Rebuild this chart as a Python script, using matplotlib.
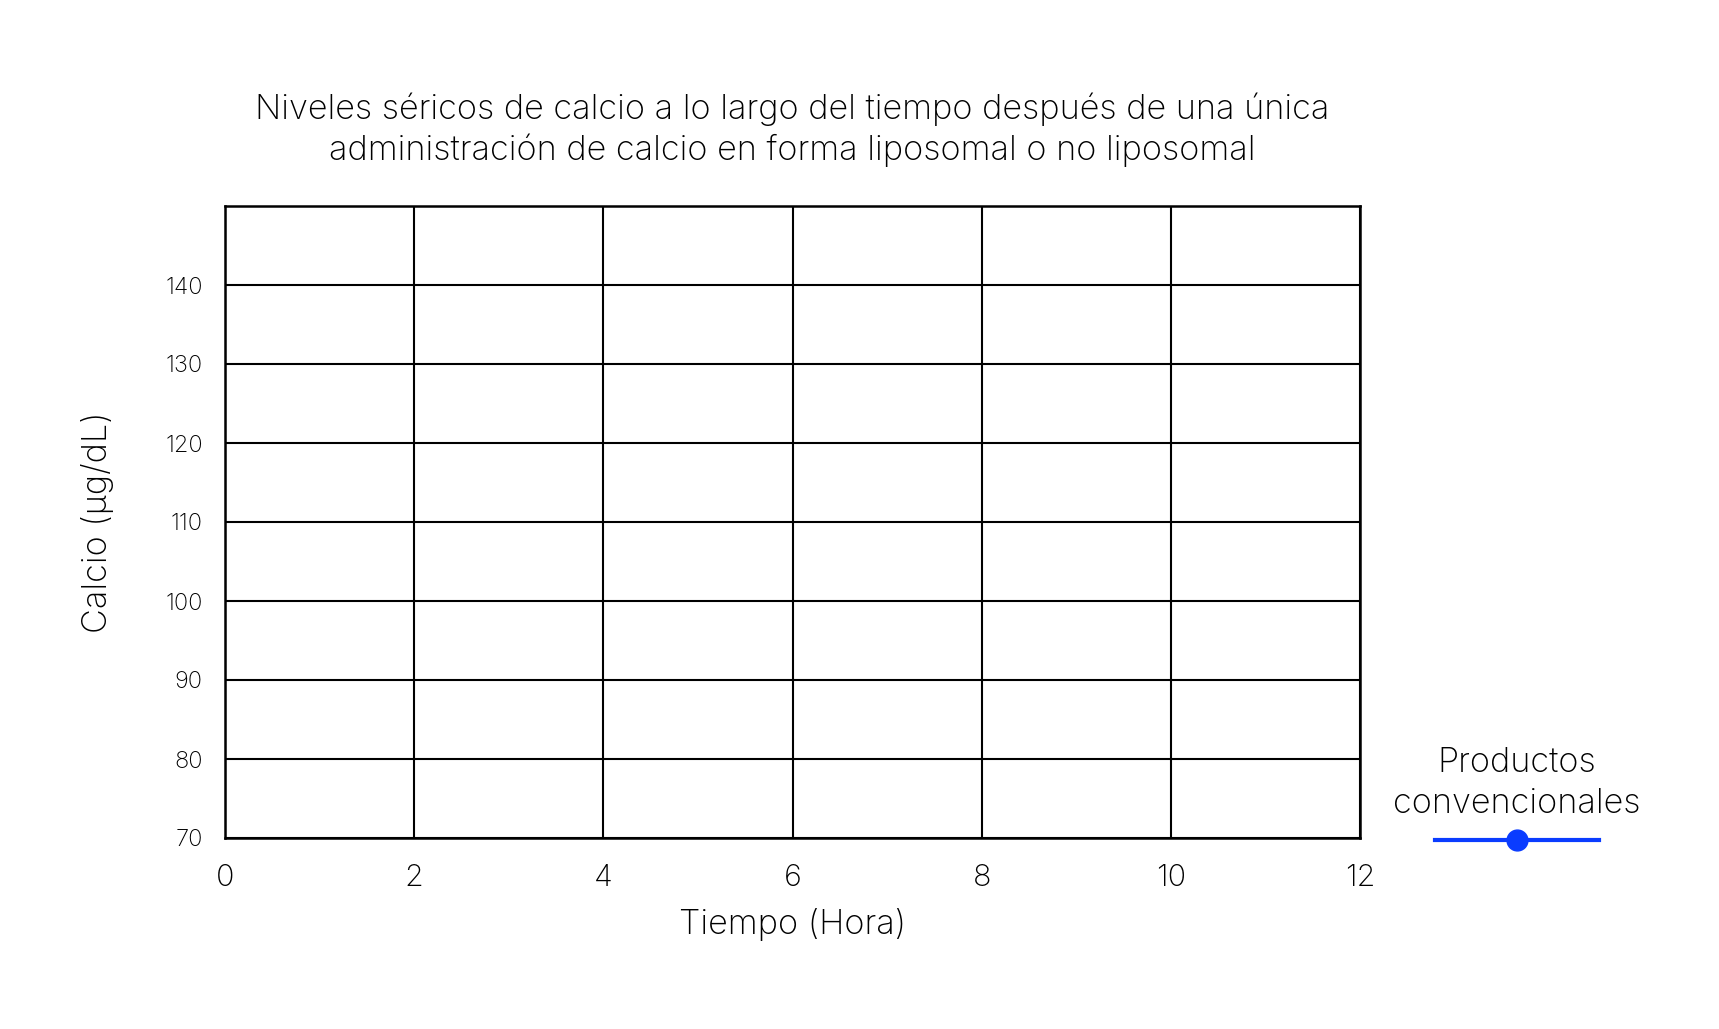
import matplotlib.pyplot as plt

# chart values (the reference grid has no plotted points yet)
serie_nombre = "Productos\nconvencionales"
tiempo_horas = []
calcio_valores = []
x_ticks = [0, 2, 4, 6, 8, 10, 12]
y_ticks = [70, 80, 90, 100, 110, 120, 130, 140]

titulo = ("Niveles séricos de calcio a lo largo del tiempo después de una única\n"
          "administración de calcio en forma liposomal o no liposomal")

plt.rcParams['font.family'] = ['Inter', 'DejaVu Sans']
plt.rcParams['font.weight'] = 'light'
plt.rcParams['axes.titleweight'] = 'light'
plt.rcParams['axes.labelweight'] = 'light'

fig = plt.figure(figsize=(17.19, 10.29), dpi=100)
ax = fig.add_axes([225 / 1719, 1 - 838 / 1029, (1360 - 225) / 1719, (838 - 206) / 1029])

linea, = ax.plot(tiempo_horas, calcio_valores, color='#0a3cff', linewidth=3,
                 marker='o', markersize=15, label=' ')

ax.set_xlim(0, 12)
ax.set_ylim(70, 150)
ax.set_xticks(x_ticks)
ax.set_yticks(y_ticks)
ax.tick_params(axis='x', length=0, pad=19, labelsize=22)
ax.tick_params(axis='y', length=0, pad=16, labelsize=17)
ax.grid(True, color='black', linewidth=1.5)
for spine in ax.spines.values():
    spine.set_linewidth(1.8)
    spine.set_color('black')

ax.set_xlabel("Tiempo (Hora)", fontsize=24.7, labelpad=11)
ax.set_ylabel("Calcio (µg/dL)", fontsize=24.7, labelpad=37)
ax.set_title(titulo, fontsize=24.7, pad=33, linespacing=1.3)

# legend: series name sits above the line handle
leg = ax.legend(handles=[linea], labels=[''], title=serie_nombre,
                title_fontsize=24.7, fontsize=16, frameon=False,
                handlelength=7.4, handletextpad=0, borderaxespad=0,
                loc='center', bbox_to_anchor=(1517 / 1719, 1 - 799 / 1029),
                bbox_transform=fig.transFigure)
leg.get_title().set_multialignment('center')
leg.get_title().set_linespacing(1.4)

fig.savefig('out.png', dpi=100)
